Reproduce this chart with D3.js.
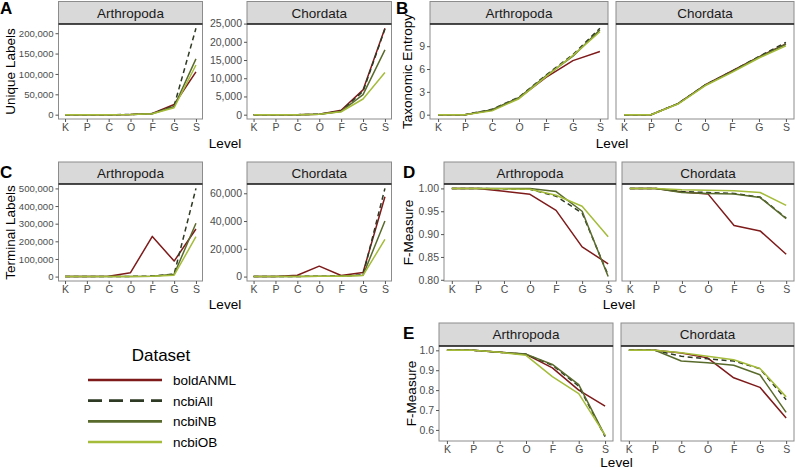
<!DOCTYPE html>
<html><head><meta charset="utf-8">
<script src="https://cdn.jsdelivr.net/npm/d3@7"></script>
<style>body{margin:0;background:#fff}svg{display:block;font-family:"Liberation Sans",Arial,sans-serif}</style>
</head><body><svg id="c" width="795" height="470"></svg>
<script>
const levels = ["K","P","C","O","F","G","S"];
const datasets = ["boldANML","ncbiAll","ncbiNB","ncbiOB"];
const colors = ["#7e1a1a","#2e3a23","#596b2c","#a4bc3a"];
const dashes = [null,"5,3.5",null,null];
const taxa = ["Arthropoda","Chordata"];

// rows = datasets (boldANML, ncbiAll, ncbiNB, ncbiOB), columns = levels K..S
const uniqueArthropoda = [
  [1,1,15,250,3200,25000,105000],
  [1,1,15,250,2600,22000,212000],
  [1,1,15,230,2500,20000,137000],
  [1,1,15,220,2300,17000,122000]];
const uniqueChordata = [
  [1,1,12,150,1200,6800,23700],
  [1,1,12,140,1000,6400,23500],
  [1,1,12,130,900,5500,17800],
  [1,1,12,120,800,4300,11600]];
const entropyArthropoda = [
  [0,0,0.6,2.2,4.9,7.1,8.3],
  [0,0,0.7,2.3,5.2,7.9,11.35],
  [0,0,0.65,2.25,5.1,7.7,11.15],
  [0,0,0.5,2.1,5.0,7.8,10.9]];
const entropyChordata = [
  [0,0,1.45,3.9,5.75,7.6,9.3],
  [0,0,1.45,3.9,5.7,7.65,9.5],
  [0,0,1.45,3.85,5.65,7.55,9.25],
  [0,0,1.4,3.8,5.55,7.45,9.05]];
const terminalArthropoda = [
  [0,0,2000,22000,228000,88000,270000],
  [0,0,500,1000,3000,15000,500000],
  [0,0,500,1000,2500,13000,302000],
  [0,0,500,1000,2000,8000,226000]];
const terminalChordata = [
  [0,0,1000,7500,800,3000,57500],
  [0,0,100,300,400,1200,63500],
  [0,0,100,300,400,1000,40000],
  [0,0,100,300,300,800,26800]];
const fTrainArthropoda = [
  [1,1,0.994,0.987,0.952,0.872,0.835],
  [1,1,0.999,0.998,0.983,0.946,0.81],
  [1,1,1,1,0.993,0.95,0.807],
  [1,1,0.999,0.998,0.985,0.961,0.894]];
const fTrainChordata = [
  [1,1,0.992,0.988,0.919,0.907,0.856],
  [1,1,0.993,0.991,0.989,0.981,0.935],
  [1,1,0.991,0.989,0.988,0.98,0.934],
  [1,1,0.997,0.996,0.995,0.991,0.963]];
const fTestArthropoda = [
  [1,1,0.99,0.98,0.912,0.80,0.72],
  [1,1,0.99,0.98,0.925,0.82,0.566],
  [1,1,0.99,0.981,0.929,0.828,0.57],
  [1,1,0.99,0.975,0.868,0.782,0.574]];
const fTestChordata = [
  [1,1,0.986,0.962,0.862,0.814,0.66],
  [1,1,0.97,0.957,0.946,0.908,0.752],
  [1,1,0.946,0.938,0.925,0.877,0.688],
  [1,1,0.988,0.97,0.953,0.909,0.766]];

const uniqueArthTicks = [0,50000,100000,150000,200000];
const uniqueChordTicks = [0,5000,10000,15000,20000,25000];
const entropyTicks = [0,3,6,9];
const terminalArthTicks = [0,100000,200000,300000,400000,500000];
const terminalChordTicks = [0,20000,40000,60000];
const fTrainTicks = [0.80,0.85,0.90,0.95,1.00];
const fTestTicks = [0.6,0.7,0.8,0.9,1.0];

const svg = d3.select("#c");
const fmtComma = d3.format(",");

function expandDomain(vals){
  const [a,b] = d3.extent(vals); const p=(b-a)*0.05; return [a-p,b+p];
}

function drawPlot(cfg){
  const g = svg.append("g");
  const sharedDomain = expandDomain(cfg.data.flat(2));
  cfg.panels.forEach((p,i)=>{
    const data = cfg.data[i];
    const x = d3.scaleLinear().domain([0.7,7.3]).range([p.x0,p.x1]);
    const yDom = cfg.shared ? sharedDomain : expandDomain(data.flat());
    const y = d3.scaleLinear().domain(yDom).range([cfg.y1,cfg.y0]);
    // strip
    g.append("rect").attr("x",p.x0).attr("y",cfg.sy).attr("width",p.x1-p.x0).attr("height",cfg.y0-cfg.sy)
      .attr("fill","#d9d9d9").attr("stroke","#8c8c8c").attr("stroke-width",1);
    g.append("text").attr("x",(p.x0+p.x1)/2).attr("y",(cfg.sy+cfg.y0)/2+4.8).attr("text-anchor","middle")
      .attr("font-size",13.5).attr("fill","#1a1a1a").text(taxa[i]);
    // panel
    g.append("rect").attr("x",p.x0).attr("y",cfg.y0).attr("width",p.x1-p.x0).attr("height",cfg.y1-cfg.y0)
      .attr("fill","#fff").attr("stroke","#8c8c8c").attr("stroke-width",1);
    g.append("line").attr("x1",p.x0).attr("x2",p.x1).attr("y1",cfg.y0).attr("y2",cfg.y0).attr("stroke","#222").attr("stroke-width",1.3);
    // axes
    const xa = d3.axisBottom(d3.scalePoint().domain(levels).range([x(1),x(7)])).tickSize(3).tickPadding(2);
    const xg = g.append("g").attr("transform",`translate(0,${cfg.y1})`).call(xa);
    xg.select(".domain").remove();
    xg.selectAll("line").attr("stroke","#555");
    xg.selectAll("text").attr("font-size",10.5).attr("fill","#4d4d4d").attr("font-family","Liberation Sans, Arial, sans-serif");
    if(!cfg.shared || i===0){
      const ticks = cfg.ticks[i];
      const ya = d3.axisLeft(y).tickValues(ticks).tickSize(3).tickPadding(2).tickFormat(cfg.fmt);
      const yg = g.append("g").attr("transform",`translate(${p.x0},0)`).call(ya);
      yg.select(".domain").remove();
      yg.selectAll("line").attr("stroke","#555");
      yg.selectAll("text").attr("font-size",cfg.tickFont ? cfg.tickFont[i] : 10.5).attr("fill","#4d4d4d").attr("font-family","Liberation Sans, Arial, sans-serif");
    }
    // lines
    const line = d3.line().x((d,j)=>x(j+1)).y(d=>y(d));
    data.forEach((s,k)=>{
      g.append("path").attr("d",line(s)).attr("fill","none").attr("stroke",colors[k]).attr("stroke-width",1.5)
        .attr("stroke-dasharray",dashes[k]).attr("stroke-linejoin","round");
    });
  });
  // y title
  const cy = (cfg.y0+cfg.y1)/2;
  g.append("text").attr("transform",`translate(${cfg.ytx},${cy}) rotate(-90)`).attr("text-anchor","middle")
    .attr("font-size",13.5).attr("fill","#000").text(cfg.ytitle);
  // x title
  const px0 = cfg.panels[0].x0, px1 = cfg.panels[1].x1;
  g.append("text").attr("x",(px0+px1)/2).attr("y",cfg.ltY).attr("text-anchor","middle").attr("font-size",13.5).attr("fill","#000").text("Level");
  // letter
  g.append("text").attr("x",cfg.lx).attr("y",cfg.ly).attr("font-size",17).attr("font-weight","bold").attr("fill","#000").text(cfg.letter);
}

const fmtDec2 = d3.format(".2f"), fmtDec1 = d3.format(".1f");

drawPlot({letter:"A",lx:0,ly:14,data:[uniqueArthropoda,uniqueChordata],shared:false,
  ticks:[uniqueArthTicks,uniqueChordTicks],fmt:fmtComma,tickFont:[9.6,10.5],
  panels:[{x0:58.5,x1:202.5},{x0:247,x1:391.5}],sy:1.5,y0:24,y1:119,ytx:15,ytitle:"Unique Labels",ltY:148});
drawPlot({letter:"B",lx:396,ly:14,data:[entropyArthropoda,entropyChordata],shared:true,
  ticks:[entropyTicks],fmt:d3.format("d"),
  panels:[{x0:430,x1:608},{x0:616,x1:794}],sy:1.5,y0:24,y1:119,ytx:412,ytitle:"Taxonomic Entropy",ltY:148});
drawPlot({letter:"C",lx:0,ly:178,data:[terminalArthropoda,terminalChordata],shared:false,
  ticks:[terminalArthTicks,terminalChordTicks],fmt:fmtComma,tickFont:[9.6,10.5],
  panels:[{x0:58.5,x1:202.5},{x0:247,x1:391.5}],sy:162,y0:184,y1:281,ytx:15,ytitle:"Terminal Labels",ltY:309});
drawPlot({letter:"D",lx:403,ly:178,data:[fTrainArthropoda,fTrainChordata],shared:true,
  ticks:[fTrainTicks],fmt:fmtDec2,
  panels:[{x0:444,x1:616},{x0:622,x1:794}],sy:162,y0:184,y1:281,ytx:413,ytitle:"F-Measure",ltY:309});
drawPlot({letter:"E",lx:403,ly:339,data:[fTestArthropoda,fTestChordata],shared:true,
  ticks:[fTestTicks],fmt:fmtDec1,
  panels:[{x0:439,x1:613},{x0:621,x1:794}],sy:323,y0:346,y1:441,ytx:416,ytitle:"F-Measure",ltY:466.5});

// legend
const lg = svg.append("g");
lg.append("text").attr("x",161).attr("y",361).attr("text-anchor","middle").attr("font-size",17).attr("fill","#000").text("Dataset");
const ly = d3.scalePoint().domain(datasets).range([380,442]);
datasets.forEach((d,k)=>{
  lg.append("line").attr("x1",88).attr("x2",162).attr("y1",ly(d)).attr("y2",ly(d)).attr("stroke",colors[k])
    .attr("stroke-width",2.6).attr("stroke-dasharray",k===1?"14,7":null);
  lg.append("text").attr("x",173).attr("y",ly(d)+5).attr("font-size",13.5).attr("fill","#000").text(d);
});
</script></body></html>
